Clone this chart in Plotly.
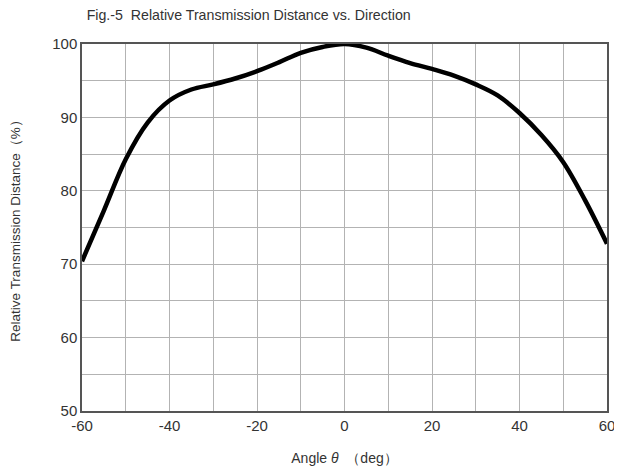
import plotly.graph_objects as go

angle = [-60, -55, -50, -45, -40, -35, -30, -25, -20, -15, -10, -5, 0, 5, 10, 15, 20, 25, 30, 35, 40, 45, 50, 55, 60]
distance = [70.4, 77.3, 84.3, 89.3, 92.3, 93.8, 94.5, 95.3, 96.3, 97.5, 98.8, 99.6, 100.0, 99.5, 98.4, 97.4, 96.6, 95.7, 94.5, 93.0, 90.6, 87.6, 83.9, 78.7, 72.8]

x_tickvals = [-60, -40, -20, 0, 20, 40, 60]
x_ticktext = ["-60", "-40", "-20", "0", "20", "40", "60"]
y_tickvals = [50, 60, 70, 80, 90, 100]
y_ticktext = ["50", "60", "70", "80", "90", "100"]

fig = go.Figure()
fig.add_trace(go.Scatter(x=angle, y=distance, mode="lines",
                         line=dict(color="black", width=4.5, shape="spline", smoothing=1.0),
                         showlegend=False, hoverinfo="skip"))

font = "Liberation Sans, Arial, sans-serif"
grid = "#b3b3b3"
fig.update_layout(
    width=614, height=464,
    margin=dict(l=74, r=15, t=36, b=61),
    paper_bgcolor="white", plot_bgcolor="white",
    font=dict(family=font, color="#333", size=15),
    title=dict(text="Fig.-5  Relative Transmission Distance vs. Direction",
               x=0.392, xanchor="center", y=0.985, yanchor="middle",
               font=dict(size=14.2, color="#333", family=font)),
    xaxis=dict(range=[-60, 60], tickvals=x_tickvals, ticktext=x_ticktext,
               showgrid=True, gridcolor=grid, gridwidth=1,
               minor=dict(dtick=10, tick0=-60, showgrid=True, gridcolor=grid, gridwidth=1),
               showline=True, linecolor="#555", linewidth=1.5, mirror=True, ticks="",
               zeroline=False, tickfont=dict(size=15), automargin=False,
               title=dict(text="Angle <i>θ</i>  （deg）", font=dict(size=14), standoff=20)),
    yaxis=dict(range=[50, 100], tickvals=y_tickvals, ticktext=y_ticktext,
               showgrid=True, gridcolor=grid, gridwidth=1,
               minor=dict(dtick=5, tick0=50, showgrid=True, gridcolor=grid, gridwidth=1),
               showline=True, linecolor="#555", linewidth=1.5, mirror=True, ticks="",
               zeroline=False, tickfont=dict(size=15), automargin=False,
               title=dict(text="Relative Transmission Distance（%）", font=dict(size=13.5), standoff=35)),
)
fig.write_html("out.html")
